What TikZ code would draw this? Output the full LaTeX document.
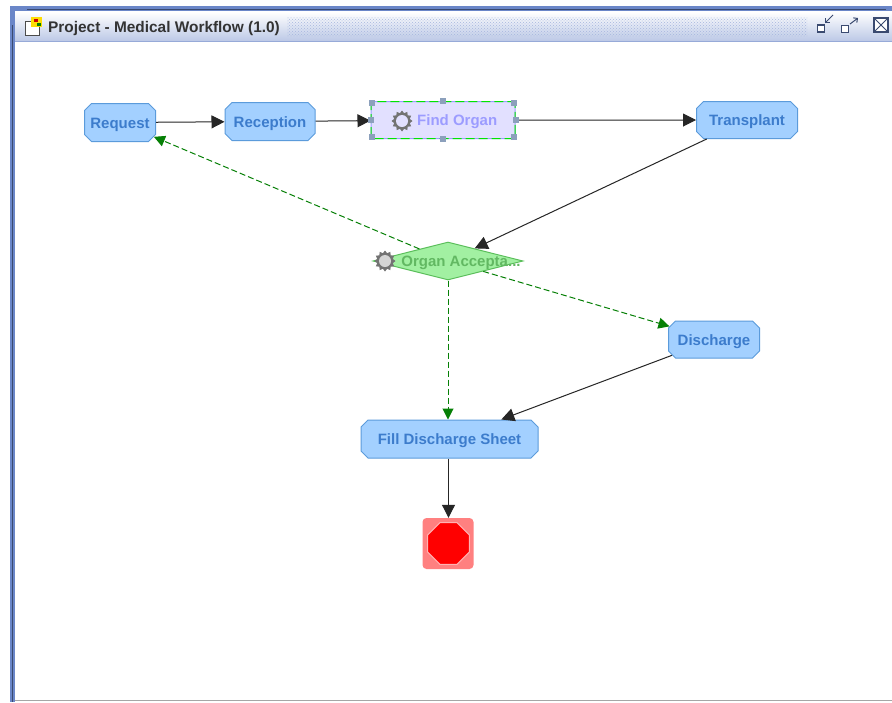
\documentclass[tikz,border=0pt]{standalone}
\usepackage{fontspec}
\setmainfont{Liberation Sans}
\usetikzlibrary{positioning}
\usetikzlibrary{arrows.meta,shapes,shapes.misc,shapes.geometric,patterns}
\definecolor{taskfill}{HTML}{A3D0FF}
\definecolor{taskline}{HTML}{5B9BDB}
\definecolor{tasktext}{HTML}{3C7CCC}
\definecolor{selfill}{HTML}{E2E0FF}
\definecolor{seltext}{HTML}{9C9CFF}
\definecolor{gatefill}{HTML}{A2F0A2}
\definecolor{gateline}{HTML}{5CBF5C}
\definecolor{gatetext}{HTML}{62B862}
\definecolor{frameblue}{HTML}{6A86C8}
\definecolor{framedark}{HTML}{3A4A70}
\definecolor{flowgreen}{HTML}{068006}
\definecolor{handlecol}{HTML}{8CA0BC}
\tikzstyle{label}=[inner sep=0pt,text height=11pt,text depth=0pt,font=\fontsize{15}{15}\bfseries]
\tikzstyle{task}=[chamfered rectangle,chamfered rectangle xsep=3.5pt,chamfered rectangle ysep=3.5pt,draw=taskline,fill=taskfill,line width=1pt,label,text=tasktext]
\tikzstyle{gear}=[star,star points=12,star point ratio=1.3,fill=black!55,inner sep=0pt,minimum size=21pt]
\tikzstyle{gearhole}=[circle,fill=white,inner sep=0pt,minimum size=12pt]
\tikzstyle{handle}=[rectangle,fill=handlecol,inner sep=0pt,minimum size=6pt]
\tikzstyle{edge}=[draw,line width=1pt,black!85,-{Triangle[length=13pt,width=13pt]}]
\tikzstyle{greenedge}=[draw,line width=1pt,flowgreen,dash pattern=on 6pt off 3pt,-{Triangle[length=11pt,width=11pt]}]
\tikzstyle{winbutton}=[rectangle,draw=framedark,fill=white,line width=1.5pt,inner sep=0pt]

\begin{document}
\begin{tikzpicture}[x=1pt,y=-1pt]
  \useasboundingbox (0,0) rectangle (892,702);

  % window frame
  \fill[white] (0,0) rectangle (892,702);
  \shade[top color=white,bottom color=frameblue!45] (15,12) rectangle (892,41);
  \fill[pattern=crosshatch dots,pattern color=frameblue!60] (287,17) rectangle (807,36);
  \fill[frameblue] (10,6) rectangle (892,11);
  \fill[framedark] (27,8.5) rectangle (886,10);
  \fill[frameblue] (10,6) rectangle (15,702);
  \fill[framedark] (12,25) rectangle (13,702);
  \fill[frameblue!70] (15,40.5) rectangle (892,42);
  \fill[black!35] (15,700) rectangle (892,701);

  \node[anchor=west,label,text=black!80,font=\fontsize{15.4}{15}\bfseries] (wintitle) at (48,27) {Project - Medical Workflow (1.0)};

  % title icon
  \draw[black!70,fill=white] (25,21) rectangle (39,35);
  \fill[yellow!80!orange] (31,17) rectangle (42,27);
  \fill[red!80!black] (34,19) rectangle (38,22);
  \fill[green!50!black] (37,23) rectangle (41,26);

  % window buttons
  \node[winbutton,minimum size=7pt] (winmin) at (821,28.5) {};
  \node[winbutton,minimum size=7pt] (winmax) at (845,29) {};
  \node[winbutton,minimum size=14pt] (winclosebox) at (881,25) {};
  \node[draw=framedark,line width=1pt,cross out,minimum size=14pt,inner sep=0pt] (winclose) at (881,25) {};
  \draw[framedark,line width=1pt,-{Straight Barb[length=3pt]}] (833,15) -- (825,23);
  \draw[framedark,line width=1pt,-{Straight Barb[length=3pt]}] (850,24) -- (858,18);

  % tasks
  \foreach \x/\y/\w/\h/\name/\label in {120/122.5/71/38/request/Request, 270/121.5/90/38/reception/Reception, 747/120/101/37/transplant/Transplant, 714/339.5/91/37/discharge/Discharge, 449.5/439/177/38/fill/Fill Discharge Sheet}
          \node[task,minimum width=\w pt,minimum height=\h pt] (\name) at (\x, \y) {\label};

  % selected task
  \node[task,minimum width=144pt,minimum height=37pt,fill=selfill,draw=seltext,text=seltext] (organ) at (443,120) {};
  \node[task,minimum width=144pt,minimum height=37pt,fill=none,draw=green!90!black,dash pattern=on 9pt off 4pt] (organdash) at (443,120) {};
  \node[label,text=seltext,anchor=west] (organlabel) at (417,120) {Find Organ};
  \node[gear] (organgear) at (402,121) {};
  \node[gearhole,fill=selfill] (organhole) at (402,121) {};

  % gateway
  \node[diamond,aspect=4,draw=gateline,fill=gatefill,line width=1pt,inner sep=0pt,minimum width=150pt,minimum height=38pt] (gate) at (448,261) {};
  \node[label,text=gatetext] (gatelabel) at (461,261) {Organ Accepta...};
  \node[gear] (gategear) at (385,261) {};
  \node[gearhole,fill opacity=0.7] (gatehole) at (385,261) {};

  % stop
  \node[rectangle,rounded corners=4pt,fill=red!50,minimum size=51pt,inner sep=0pt] (stopbox) at (448,543.5) {};
  \node[regular polygon,regular polygon sides=8,fill=red,draw=red!30,line width=1pt,minimum size=45pt,inner sep=0pt] (stop) at (448.5,543.5) {};

  \foreach \source/\dest in {request/reception, reception/organ, organ/transplant, transplant/gate, discharge/fill}
         \path[edge] (\source) -- (\dest);
  \path[edge] (fill.south -| stop) -- (stopbox.north -| stop);

  \foreach \source/\dest in {gate/request, gate/discharge}
         \path[greenedge] (\source) -- (\dest);
  \path[greenedge] (gate) -- (fill.north -| gate);

  % handles
  \foreach \a/\name in {north west/ha, north/hb, north east/hc, west/hd, east/he, south west/hf, south/hg, south east/hh}
          \node[handle] (\name) at (organ.\a) {};

\end{tikzpicture}
\end{document}
